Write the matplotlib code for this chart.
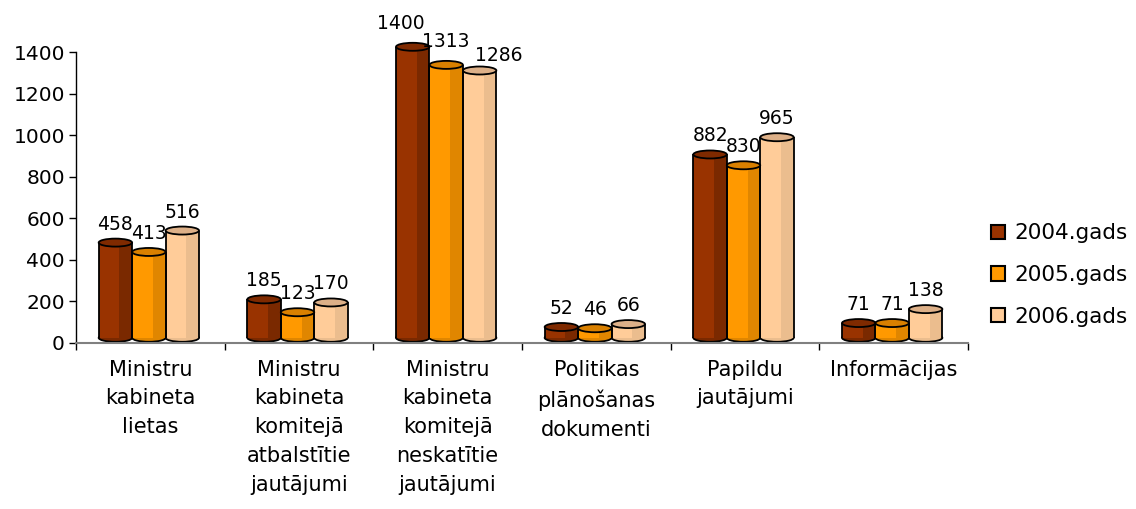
import matplotlib
matplotlib.use("Agg")
import matplotlib.pyplot as plt
from matplotlib.patches import Rectangle, Ellipse, Patch
import numpy as np

categories = ["Ministru\nkabineta\nlietas",
              "Ministru\nkabineta\nkomitejā\natbalstītie\njautājumi",
              "Ministru\nkabineta\nkomitejā\nneskatītie\njautājumi",
              "Politikas\nplānošanas\ndokumenti",
              "Papildu\njautājumi",
              "Informācijas"]
series_names = ["2004.gads", "2005.gads", "2006.gads"]
v2004 = [458, 185, 1400, 52, 882, 71]
v2005 = [413, 123, 1313, 46, 830, 71]
v2006 = [516, 170, 1286, 66, 965, 138]
yticks = [0, 200, 400, 600, 800, 1000, 1200, 1400]

values = [v2004, v2005, v2006]
face = ["#993300", "#FF9900", "#FFCC99"]
dark = ["#7A2900", "#E08600", "#EBBD8E"]
topc = ["#7F2A00", "#D98000", "#DDB088"]

# label nudges in pixels (series, category) -> (dx, extra dy)
nudge = {(0, 2): (-12, 5), (1, 2): (0, 5), (2, 2): (19, -4)}

plt.rcParams['font.family'] = ['DejaVu Sans']

fig = plt.figure(figsize=(11.36, 5.09), dpi=100)
ax = fig.add_axes([76/1136, 1-343/509, (968-76)/1136, (343-52)/509])
ax.set_xlim(-0.5, 5.5)
ax.set_ylim(0, 1400)

px_per_unit = (343-52)/1400.0
px_per_x = (968-76)/6.0
depth = 25          # 3D floor offset in data units
ell_h = 8/px_per_unit
w = 0.225
offsets = [-0.235, -0.01, 0.215]
lw = 1.3

for s in range(3):
    for i, v in enumerate(values[s]):
        xc = i + offsets[s]
        x0 = xc - w/2
        b = depth
        t = depth + v
        ax.add_patch(Ellipse((xc, b), w, ell_h, facecolor=dark[s], edgecolor="black",
                             lw=lw, zorder=2, clip_on=False))
        ax.add_patch(Rectangle((x0, b), w, t-b, facecolor=face[s], edgecolor="none",
                               lw=0, zorder=3, clip_on=False))
        ax.add_patch(Rectangle((x0 + w*0.62, b), w*0.38, t-b, facecolor=dark[s],
                               edgecolor="none", lw=0, zorder=3, clip_on=False))
        ax.plot([x0, x0], [b, t], color="black", lw=lw, zorder=4,
                solid_capstyle="butt", clip_on=False)
        ax.plot([x0+w, x0+w], [b, t], color="black", lw=lw, zorder=4,
                solid_capstyle="butt", clip_on=False)
        ax.add_patch(Ellipse((xc, t), w, ell_h, facecolor=topc[s], edgecolor="black",
                             lw=lw, zorder=5, clip_on=False))
        dx, dy = nudge.get((s, i), (0, 0))
        ax.text(xc + dx/px_per_x, t + ell_h/2 + (9 + dy)/px_per_unit, str(v),
                ha="center", va="baseline",
                fontsize=13.5, color="black", zorder=6, clip_on=False)

for sp in ["top", "right"]:
    ax.spines[sp].set_visible(False)
ax.spines["left"].set_color("black")
ax.spines["left"].set_linewidth(1.0)
ax.spines["bottom"].set_color("#808080")
ax.spines["bottom"].set_linewidth(1.5)
ax.set_yticks(yticks)
ax.set_yticklabels([str(y) for y in yticks], fontsize=14.5)
ax.tick_params(axis="y", length=5, width=1, color="black", pad=3)

ax.set_xticks(np.arange(-0.5, 6.0, 1.0))
ax.set_xticklabels([])
ax.tick_params(axis="x", length=5, width=1, color="black")
ax.set_xticks(np.arange(6), minor=True)
ax.set_xticklabels(categories, minor=True, fontsize=15, linespacing=1.55, va="top")
ax.tick_params(axis="x", which="minor", length=0, pad=12)

handles = [Patch(facecolor=face[s], edgecolor="black", lw=1.5) for s in range(3)]
leg = fig.legend(handles, series_names, loc="center left", bbox_to_anchor=(991/1136, 1-275/509),
                 frameon=False, fontsize=15.5, handlelength=0.65, handleheight=0.65,
                 handletextpad=0.45, labelspacing=1.0, borderpad=0, borderaxespad=0)

fig.savefig("out.png", dpi=100)
